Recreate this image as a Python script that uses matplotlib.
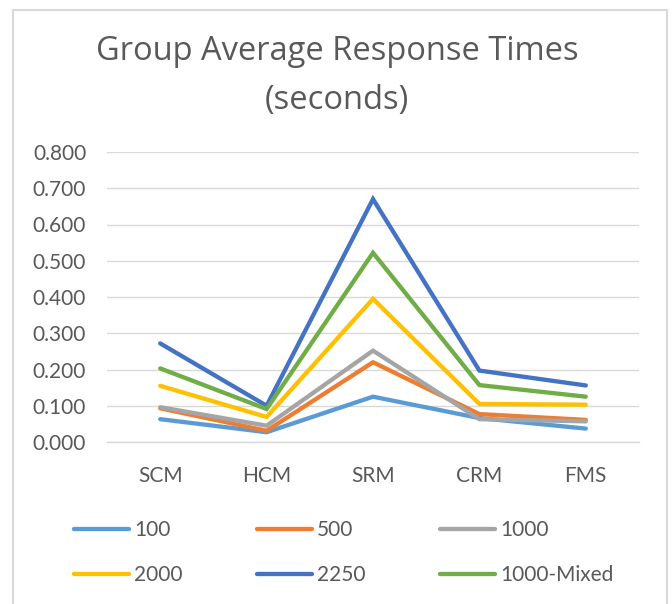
import matplotlib.pyplot as plt
from matplotlib.patches import Rectangle

categories = ['SCM', 'HCM', 'SRM', 'CRM', 'FMS']
series_names = ['100', '500', '1000', '2000', '2250', '1000-Mixed']
s100 = [0.063, 0.027, 0.125, 0.066, 0.037]
s500 = [0.093, 0.031, 0.220, 0.077, 0.061]
s1000 = [0.096, 0.045, 0.252, 0.063, 0.057]
s2000 = [0.155, 0.069, 0.395, 0.105, 0.103]
s2250 = [0.272, 0.100, 0.670, 0.197, 0.156]
s1000mixed = [0.203, 0.091, 0.522, 0.157, 0.125]
yticks = [0.0, 0.1, 0.2, 0.3, 0.4, 0.5, 0.6, 0.7, 0.8]

colors = ['#5B9BD5', '#ED7D31', '#A5A5A5', '#FFC000', '#4472C4', '#70AD47']
txt = '#595959'
grid = '#D9D9D9'

plt.rcParams['font.family'] = ['Lato', 'DejaVu Sans']

W, H = 672, 604
fig = plt.figure(figsize=(W / 100, H / 100), dpi=100)

# chart frame
fig.patches.append(Rectangle((13 / W, -0.05), (667 - 13) / W, 1.05 - 10 / H,
                             transform=fig.transFigure, fill=False,
                             edgecolor=grid, linewidth=1.5))

ax = fig.add_axes([107 / W, 1 - 442 / H, (639 - 107) / W, (442 - 152) / H])

x = range(len(categories))
lines = []
for name, vals, c in zip(series_names,
                         [s100, s500, s1000, s2000, s2250, s1000mixed], colors):
    l, = ax.plot(x, vals, color=c, linewidth=3.1, label=name,
                 solid_capstyle='round', solid_joinstyle='miter')
    lines.append(l)

ax.set_xlim(-0.5, len(categories) - 0.5)
ax.set_ylim(0, 0.8)
ax.set_yticks(yticks)
ax.set_yticklabels(['%.3f' % v for v in yticks])
ax.set_xticks(list(x))
ax.set_xticklabels(categories)
ax.tick_params(axis='y', length=0, pad=15, labelsize=15, labelcolor=txt)
ax.tick_params(axis='x', length=0, pad=17, labelsize=15, labelcolor=txt)
ax.grid(axis='y', color=grid, linewidth=1)
ax.set_axisbelow(True)
for s in ['top', 'right', 'left']:
    ax.spines[s].set_visible(False)
ax.spines['bottom'].set_color(grid)
ax.spines['bottom'].set_linewidth(1)

fig.text(337 / W, 1 - 52 / H, 'Group Average Response Times',
         ha='center', va='center', fontsize=23.5, color=txt,
         family=['Open Sans', 'DejaVu Sans'])
fig.text(337 / W, 1 - 100 / H, '(seconds)',
         ha='center', va='center', fontsize=23.5, color=txt,
         family=['Open Sans', 'DejaVu Sans'])

# legend fills column by column, so reorder to read row by row
order = [0, 3, 1, 4, 2, 5]
leg = fig.legend([lines[i] for i in order], [series_names[i] for i in order],
                 loc='upper left', bbox_to_anchor=(74 / W, 1 - 520 / H),
                 ncol=3, frameon=False, fontsize=15, handlelength=2.65,
                 handletextpad=0.25, columnspacing=3.55, labelspacing=1.2,
                 borderpad=0, borderaxespad=0)
for t in leg.get_texts():
    t.set_color(txt)
for h in leg.get_lines():
    h.set_linewidth(3.1)
    h.set_solid_capstyle('round')

fig.savefig('out.png', dpi=100)
